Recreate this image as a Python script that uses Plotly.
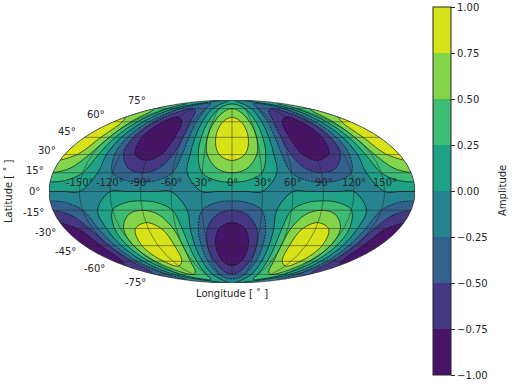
import math
import plotly.graph_objects as go

longitudes = list(range(-180, 181, 15))
latitudes = [-89.5, -75, -60, -45, -30, -15, 0, 15, 30, 45, 60, 75, 89.5]

amp_p90 = [0.01,0.01,0.00,0.00,0.00,-0.01,-0.01,-0.01,0.00,0.00,0.00,0.01,0.01,0.01,0.00,0.00,0.00,-0.01,-0.01,-0.01,0.00,0.00,0.00,0.01,0.01]
amp_p75 = [0.50,0.43,0.25,0.00,-0.25,-0.43,-0.50,-0.43,-0.25,0.00,0.25,0.43,0.50,0.43,0.25,0.00,-0.25,-0.43,-0.50,-0.43,-0.25,0.00,0.25,0.43,0.50]
amp_p60 = [0.87,0.74,0.43,0.00,-0.43,-0.74,-0.87,-0.74,-0.43,0.00,0.43,0.74,0.87,0.74,0.43,0.00,-0.43,-0.74,-0.87,-0.74,-0.43,0.00,0.43,0.74,0.87]
amp_p45 = [1.00,0.87,0.50,0.00,-0.50,-0.87,-1.00,-0.87,-0.50,0.00,0.50,0.87,1.00,0.87,0.50,0.00,-0.50,-0.87,-1.00,-0.87,-0.50,0.00,0.50,0.87,1.00]
amp_p30 = [0.87,0.74,0.43,0.00,-0.43,-0.74,-0.87,-0.74,-0.43,0.00,0.43,0.74,0.87,0.74,0.43,0.00,-0.43,-0.74,-0.87,-0.74,-0.43,0.00,0.43,0.74,0.87]
amp_p15 = [0.50,0.43,0.25,0.00,-0.25,-0.43,-0.50,-0.43,-0.25,0.00,0.25,0.43,0.50,0.43,0.25,0.00,-0.25,-0.43,-0.50,-0.43,-0.25,0.00,0.25,0.43,0.50]
amp_00 = [0.00] * 25
amp_m15 = [-0.50,-0.43,-0.25,0.00,0.25,0.43,0.50,0.43,0.25,0.00,-0.25,-0.43,-0.50,-0.43,-0.25,0.00,0.25,0.43,0.50,0.43,0.25,0.00,-0.25,-0.43,-0.50]
amp_m30 = [-0.87,-0.74,-0.43,0.00,0.43,0.74,0.87,0.74,0.43,0.00,-0.43,-0.74,-0.87,-0.74,-0.43,0.00,0.43,0.74,0.87,0.74,0.43,0.00,-0.43,-0.74,-0.87]
amp_m45 = [-1.00,-0.87,-0.50,0.00,0.50,0.87,1.00,0.87,0.50,0.00,-0.50,-0.87,-1.00,-0.87,-0.50,0.00,0.50,0.87,1.00,0.87,0.50,0.00,-0.50,-0.87,-1.00]
amp_m60 = [-0.87,-0.74,-0.43,0.00,0.43,0.74,0.87,0.74,0.43,0.00,-0.43,-0.74,-0.87,-0.74,-0.43,0.00,0.43,0.74,0.87,0.74,0.43,0.00,-0.43,-0.74,-0.87]
amp_m75 = [-0.50,-0.43,-0.25,0.00,0.25,0.43,0.50,0.43,0.25,0.00,-0.25,-0.43,-0.50,-0.43,-0.25,0.00,0.25,0.43,0.50,0.43,0.25,0.00,-0.25,-0.43,-0.50]
amp_m90 = [-0.01,-0.01,0.00,0.00,0.00,0.01,0.01,0.01,0.00,0.00,0.00,-0.01,-0.01,-0.01,0.00,0.00,0.00,0.01,0.01,0.01,0.00,0.00,0.00,-0.01,-0.01]
amplitude = [amp_m90, amp_m75, amp_m60, amp_m45, amp_m30, amp_m15, amp_00,
             amp_p15, amp_p30, amp_p45, amp_p60, amp_p75, amp_p90]

band_colors = ["#481467", "#453781", "#34618d", "#26828e", "#1fa187", "#3fbc73", "#84d44b", "#d8e219"]
lon_labels = [-150, -120, -90, -60, -30, 0, 30, 60, 90, 120, 150]
lat_labels = [75, 60, 45, 30, 15, 0, -15, -30, -45, -60, -75]
colorbar_ticks = [-1, -0.75, -0.5, -0.25, 0, 0.25, 0.5, 0.75, 1]

INK = "#262626"
W, H = 512, 384
LEFT, RIGHT, TOP, BOTTOM = 49, 415, 100, 283


def mollweide(lon, lat):
    phi = math.radians(lat)
    theta = phi * 0.8
    for _ in range(200):
        theta -= (2 * theta + math.sin(2 * theta) - math.pi * math.sin(phi)) / (2 + 2 * math.cos(2 * theta))
    return (2 * math.sqrt(2) / math.pi * math.radians(lon) * math.cos(theta), math.sqrt(2) * math.sin(theta))


grid_x = [[mollweide(lo, la)[0] for lo in longitudes] for la in latitudes]
grid_y = [[mollweide(lo, la)[1] for lo in longitudes] for la in latitudes]

stepped = []
for i, c in enumerate(band_colors):
    stepped += [[i / 8, c], [(i + 1) / 8, c]]

fig = go.Figure()
common_axis = dict(showticklabels="none", showline=False, showgrid=False, startline=False, endline=False,
                   minorgridcount=0, tickmode="linear", smoothing=1, tick0=0, dtick=30)
fig.add_trace(go.Carpet(carpet="c", a=longitudes, b=latitudes, x=grid_x, y=grid_y,
                        aaxis=common_axis, baxis=common_axis))
fig.add_trace(go.Contourcarpet(carpet="c", a=longitudes, b=latitudes, z=amplitude,
                               zmin=-1, zmax=1, autocontour=False, colorscale=stepped,
                               contours=dict(type="levels", start=-1, end=1, size=0.25, coloring="fill", showlines=False),
                               line=dict(width=0, smoothing=1),
                               colorbar=dict(x=433 / W, xanchor="left", y=1 - 7 / H, yanchor="top",
                                             thickness=18, thicknessmode="pixels", len=368, lenmode="pixels",
                                             xpad=0, ypad=0, tickmode="array", tickvals=colorbar_ticks,
                                             tickformat=".2f", ticks="outside", ticklen=4, tickwidth=1,
                                             tickcolor=INK, outlinecolor=INK, outlinewidth=1,
                                             tickfont=dict(family="DejaVu Sans", size=10, color=INK))))
fig.add_trace(go.Contourcarpet(carpet="c", a=longitudes, b=latitudes, z=amplitude, showscale=False,
                               autocontour=False,
                               contours=dict(type="levels", start=0, end=0.75, size=0.25, coloring="none", showlines=True),
                               line=dict(color="black", width=0.6, dash="solid", smoothing=1)))
fig.add_trace(go.Contourcarpet(carpet="c", a=longitudes, b=latitudes, z=amplitude, showscale=False,
                               autocontour=False,
                               contours=dict(type="levels", start=-0.75, end=-0.25, size=0.25, coloring="none", showlines=True),
                               line=dict(color="black", width=0.6, dash="2px,1px", smoothing=1)))

# graticule: parallels every 15 degrees, meridians every 30 degrees, stopping at 75 degrees
gx, gy = [], []
for la in lat_labels:
    for lo in range(-180, 181, 5):
        px, py = mollweide(lo, la)
        gx.append(px)
        gy.append(py)
    gx.append(None)
    gy.append(None)
for lo in lon_labels:
    for la in range(-75, 76, 3):
        px, py = mollweide(lo, la)
        gx.append(px)
        gy.append(py)
    gx.append(None)
    gy.append(None)
fig.add_trace(go.Scatter(x=gx, y=gy, mode="lines", line=dict(color="rgba(40,40,40,0.65)", width=0.8),
                         hoverinfo="skip", showlegend=False))

fig.add_shape(type="circle", xref="x", yref="y", x0=-2 * math.sqrt(2), x1=2 * math.sqrt(2),
              y0=-math.sqrt(2), y1=math.sqrt(2), line=dict(color="#404040", width=0.8), layer="above")

text_font = dict(family="DejaVu Sans", size=10, color=INK)
for lo in lon_labels:
    fig.add_annotation(x=mollweide(lo, 0)[0], y=0, xref="x", yref="y", text=f"{lo}°", showarrow=False,
                       xanchor="center", yanchor="bottom", yshift=3, font=text_font, borderpad=0)
for la in lat_labels:
    px, py = mollweide(-180, la)
    fig.add_annotation(x=px, y=py, xref="x", yref="y", text=f"{la}°", showarrow=False,
                       xanchor="right", yanchor="middle", xshift=-8,
                       yshift=8.5 * math.sin(math.radians(la)), font=text_font, borderpad=0)
fig.add_annotation(x=232 / W, y=1 - 293 / H, xref="paper", yref="paper", text="Longitude [ ˚ ]",
                   showarrow=False, font=text_font, xanchor="center", yanchor="middle")
fig.add_annotation(x=9 / W, y=1 - 191 / H, xref="paper", yref="paper", text="Latitude [ ˚ ]",
                   showarrow=False, font=text_font, textangle=-90, xanchor="center", yanchor="middle")
fig.add_annotation(x=503 / W, y=1 - 191 / H, xref="paper", yref="paper", text="Amplitude",
                   showarrow=False, font=text_font, textangle=-90, xanchor="center", yanchor="middle")

fig.update_layout(width=W, height=H, autosize=False, margin=dict(l=0, r=0, t=0, b=0),
                  paper_bgcolor="white", plot_bgcolor="white", showlegend=False,
                  xaxis=dict(domain=[LEFT / W, RIGHT / W], range=[-2 * math.sqrt(2), 2 * math.sqrt(2)], visible=False),
                  yaxis=dict(domain=[1 - BOTTOM / H, 1 - TOP / H], range=[-math.sqrt(2), math.sqrt(2)], visible=False))
fig.write_html("out.html", config={"displayModeBar": False}, post_script="document.body.style.margin='0';")
